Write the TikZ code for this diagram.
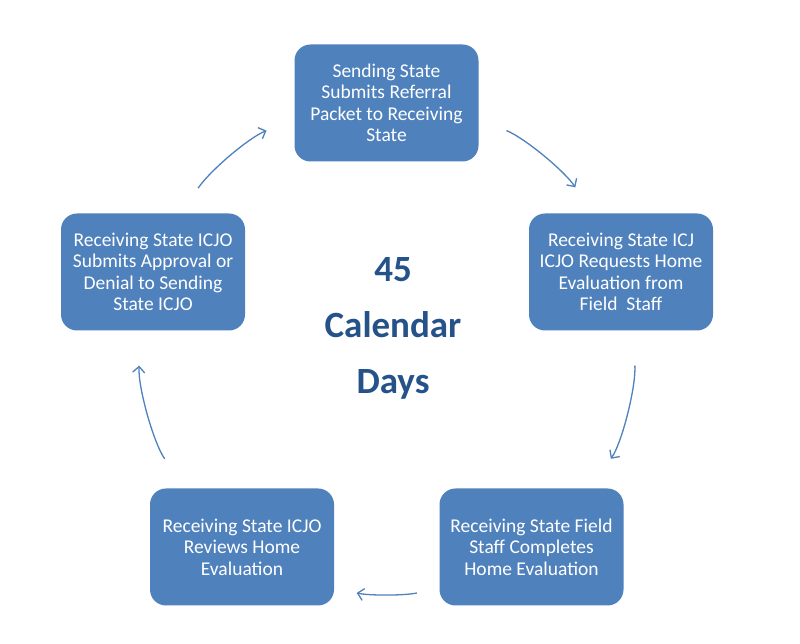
\documentclass[tikz,border=0pt]{standalone}
\usepackage{fontspec}
\setmainfont{Carlito}
\usetikzlibrary{arrows.meta}
\definecolor{boxblue}{RGB}{79,129,189}
\definecolor{textblue}{RGB}{38,82,138}
\tikzset{
  stage/.style={fill=boxblue, rounded corners=16pt, minimum width=184pt, minimum height=117pt,
    inner sep=0pt, text=white, align=center, font=\fontsize{19.5}{21.5}\selectfont},
  loopflow/.style={->, >={Straight Barb[length=6pt,width=12pt]}, draw=boxblue, line width=1.3pt, looseness=0.87}
}
\begin{document}
\begin{tikzpicture}[x=1pt,y=1pt]
\fill[white] (0,0) rectangle (800,644);
\useasboundingbox (0,0) rectangle (800,644);

%Stages
\node[stage] (submit) at (386.5,541) {Sending State\\Submits Referral\\Packet to Receiving\\State};
\node[stage] (request) at (621,372) {Receiving State ICJ\\ICJO Requests Home\\Evaluation from\\Field~ Staff};
\node[stage] (complete) at (531.5,97) {Receiving State Field\\Staff Completes\\Home Evaluation};
\node[stage] (review) at (242,97) {Receiving State ICJO\\Reviews Home\\Evaluation};
\node[stage] (decide) at (153,372) {Receiving State ICJO\\Submits Approval or\\Denial to Sending\\State ICJO};

%Centre label
\node[text=textblue, align=center, font=\fontsize{37}{56}\selectfont\bfseries] (days) at (393,316) {45\\Calendar\\Days};

%Arrows
\draw[loopflow, shorten <=30pt, shorten >=30pt] (decide.64) to[out=56.7, in=202.2] (submit.190);
\draw[loopflow, shorten <=30pt, shorten >=31pt] (submit.350) to[out=-22.2, in=123.3] (request.116);
\draw[loopflow, shorten <=35pt, shorten >=36pt] (request.281) to[out=-86, in=55] (complete.45);
\draw[loopflow, shorten <=23pt, shorten >=23pt] (complete.204) to[out=192.4, in=-12.4] (review.336);
\draw[loopflow, shorten <=36pt, shorten >=35pt] (review.134) to[out=125, in=266] (decide.259);
\end{tikzpicture}
\end{document}
